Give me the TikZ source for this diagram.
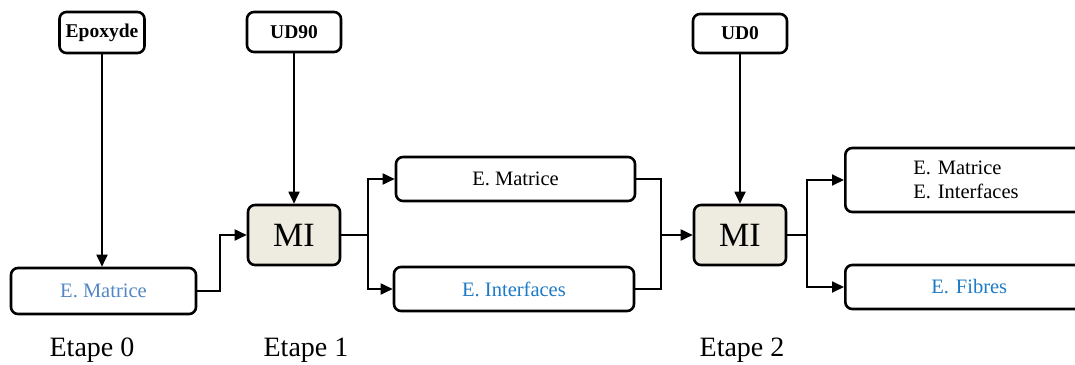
\documentclass[tikz,border=0pt]{standalone}
\usepackage{fontspec}
\setmainfont{Liberation Serif}
\usetikzlibrary{arrows.meta}
\definecolor{blueA}{HTML}{5287C4}
\definecolor{blueB}{HTML}{1C7AC6}
\definecolor{beige}{HTML}{EEECE1}
\tikzset{
  box/.style={draw=black, line width=2.6pt, rounded corners=7pt, fill=white, inner sep=0pt},
  topbox/.style={box, font=\fontsize{19.5}{22}\selectfont\bfseries},
  txtbox/.style={box, font=\fontsize{20.5}{24}\selectfont},
  mibox/.style={box, fill=beige, minimum width=92pt, minimum height=60pt, font=\fontsize{34}{36}\selectfont},
  conn/.style={line width=1.8pt},
  arr/.style={conn, -{Triangle[length=12pt,width=11pt]}},
  etape/.style={font=\fontsize{28}{30}\selectfont, anchor=base, inner sep=0pt}
}
\begin{document}
\begin{tikzpicture}[x=1pt,y=-1pt]
\useasboundingbox (0,0) rectangle (1075,364);
\clip (0,0) rectangle (1075,364);
% top boxes
\node[topbox, minimum width=85pt, minimum height=41pt] (epox) at (102,32.5) {Epoxyde};
\node[topbox, minimum width=94pt, minimum height=40pt] (ud90) at (294,32) {UD90};
\node[topbox, minimum width=94pt, minimum height=39pt] (ud0) at (740,33.5) {UD0};
% step 0
\node[txtbox, minimum width=185pt, minimum height=46pt, text=blueA] (em0) at (103.5,291) {E. Matrice};
% MI boxes
\node[mibox] (mi1) at (294,235) {MI};
\node[mibox] (mi2) at (740,235) {MI};
% step 1 outputs
\node[txtbox, minimum width=239pt, minimum height=44pt] (em1) at (515.5,179) {E. Matrice};
\node[txtbox, minimum width=240pt, minimum height=44pt, text=blueB] (ei1) at (514,289) {E. Interfaces};
% step 2 outputs
\node[txtbox, anchor=west, minimum height=64pt, inner xsep=68pt, text width=200pt, align=left] (em2) at (844,180) {E. Matrice\\E. Interfaces};
\node[txtbox, anchor=west, minimum height=44pt, text width=248pt, align=center, text=blueB] (ef2) at (844,287) {E. Fibres};
% labels
\node[etape] (et0) at (92,356) {Etape 0};
\node[etape] (et1) at (306,356) {Etape 1};
\node[etape] (et2) at (742,356) {Etape 2};
% connectors
\draw[arr] (epox.south) -- (epox.south |- em0.north);
\draw[arr] (ud90.south) -- (ud90.south |- mi1.north);
\draw[arr] (ud0.south) -- (ud0.south |- mi2.north);
\coordinate (j0) at (220,291);
\draw[arr] (em0.east) -- (j0) |- (mi1.west);
\coordinate (s1) at (368,235);
\draw[conn] (mi1.east) -- (s1);
\draw[arr] (s1) |- (em1.west);
\draw[arr] (s1) |- (ei1.west);
\coordinate (m1) at (661,235);
\draw[conn] (em1.east) -| (m1);
\draw[conn] (ei1.east) -| (m1);
\draw[arr] (m1) -- (mi2.west);
\coordinate (s2) at (807,235);
\draw[conn] (mi2.east) -- (s2);
\draw[arr] (s2) |- (em2.west);
\draw[arr] (s2) |- (ef2.west);
\end{tikzpicture}
\end{document}
